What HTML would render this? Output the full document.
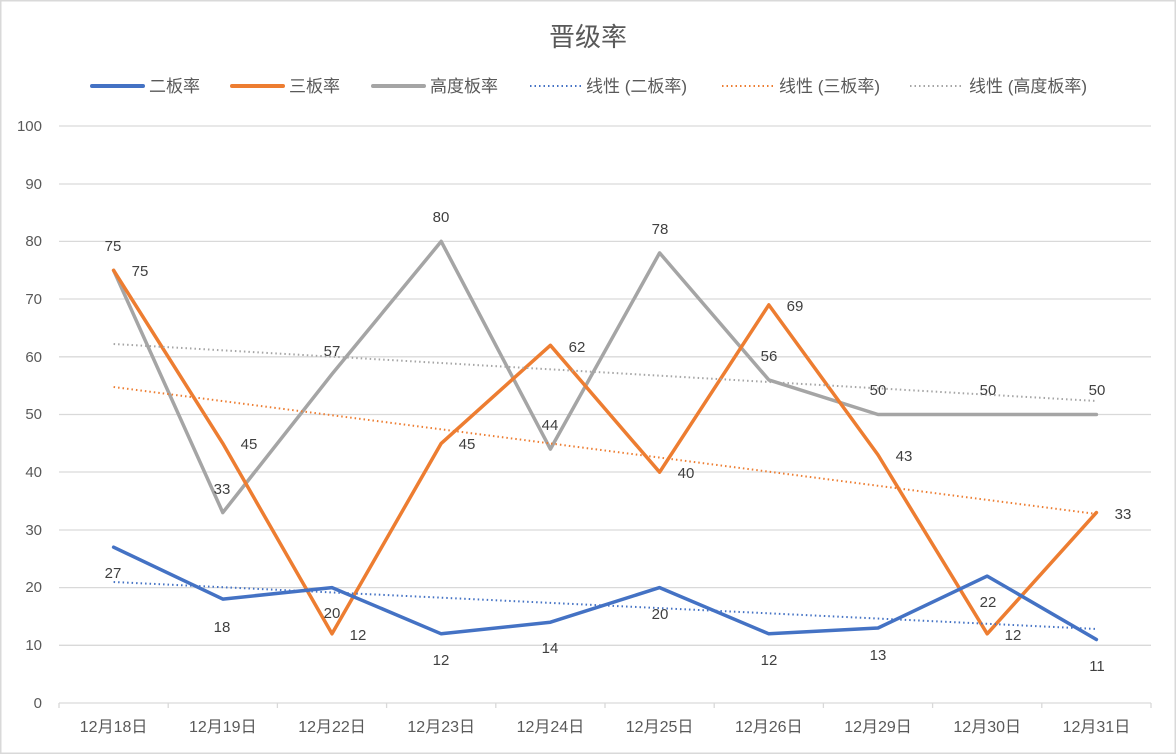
<!DOCTYPE html>
<html><head><meta charset="utf-8"><style>
html,body{margin:0;padding:0;background:#fff;}
svg{display:block;font-family:"Liberation Sans","Noto Sans CJK SC",sans-serif;}
</style></head><body>
<svg width="1176" height="754" viewBox="0 0 1176 754">
<rect x="0.75" y="0.75" width="1174.5" height="752.5" fill="#fff" stroke="#d9d9d9" stroke-width="1.5"/>
<text x="588" y="46" text-anchor="middle" font-size="26" fill="#595959">晋级率</text>
<g font-size="17" fill="#595959">
<line x1="92" y1="86" x2="143" y2="86" stroke="#4472c4" stroke-width="4" stroke-linecap="round"/><text x="149" y="92">二板率</text>
<line x1="232" y1="86" x2="283" y2="86" stroke="#ed7d31" stroke-width="4" stroke-linecap="round"/><text x="289" y="92">三板率</text>
<line x1="373" y1="86" x2="424" y2="86" stroke="#a5a5a5" stroke-width="4" stroke-linecap="round"/><text x="430" y="92">高度板率</text>
<line x1="530" y1="86" x2="582" y2="86" stroke="#4472c4" stroke-width="2" stroke-dasharray="1.5 3"/><text x="586" y="92">线性 (二板率)</text>
<line x1="722" y1="86" x2="774" y2="86" stroke="#ed7d31" stroke-width="2" stroke-dasharray="1.5 3"/><text x="779" y="92">线性 (三板率)</text>
<line x1="910" y1="86" x2="962" y2="86" stroke="#a5a5a5" stroke-width="2" stroke-dasharray="1.5 3"/><text x="969" y="92">线性 (高度板率)</text>
</g>
<g stroke="#d9d9d9" stroke-width="1.3">
<line x1="59" y1="126" x2="1151" y2="126"/><line x1="59" y1="184" x2="1151" y2="184"/>
<line x1="59" y1="241.4" x2="1151" y2="241.4"/><line x1="59" y1="299" x2="1151" y2="299"/>
<line x1="59" y1="356.8" x2="1151" y2="356.8"/><line x1="59" y1="414.5" x2="1151" y2="414.5"/>
<line x1="59" y1="472" x2="1151" y2="472"/><line x1="59" y1="530" x2="1151" y2="530"/>
<line x1="59" y1="587.6" x2="1151" y2="587.6"/><line x1="59" y1="645.3" x2="1151" y2="645.3"/>
<line x1="59" y1="703" x2="1151" y2="703"/>
<path d="M59 703v5M168.2 703v5M277.4 703v5M386.6 703v5M495.8 703v5M605 703v5M714.2 703v5M823.4 703v5M932.6 703v5M1041.8 703v5M1151 703v5"/>
</g>
<g font-size="15" fill="#595959" text-anchor="end">
<text x="42" y="131">100</text><text x="42" y="189">90</text><text x="42" y="246">80</text><text x="42" y="304">70</text><text x="42" y="362">60</text><text x="42" y="419">50</text><text x="42" y="477">40</text><text x="42" y="535">30</text><text x="42" y="592">20</text><text x="42" y="650">10</text><text x="42" y="708">0</text>
</g>
<g font-size="16" fill="#595959" text-anchor="middle">
<text x="113.6" y="732">12月18日</text><text x="222.8" y="732">12月19日</text><text x="332" y="732">12月22日</text><text x="441.2" y="732">12月23日</text><text x="550.4" y="732">12月24日</text><text x="659.6" y="732">12月25日</text><text x="768.8" y="732">12月26日</text><text x="878" y="732">12月29日</text><text x="987.2" y="732">12月30日</text><text x="1096.4" y="732">12月31日</text>
</g>
<g fill="none" stroke-width="3.5" stroke-linejoin="round" stroke-linecap="round">
<polyline stroke="#a5a5a5" points="113.6,270.3 222.8,512.6 332,374.1 441.2,241.4 550.4,449.1 659.6,252.9 768.8,379.9 878,414.5 987.2,414.5 1096.4,414.5"/>
<polyline stroke="#ed7d31" points="113.6,270.3 222.8,443.4 332,633.8 441.2,443.4 550.4,345.3 659.6,472.2 768.8,304.9 878,454.9 987.2,633.8 1096.4,512.6"/>
<polyline stroke="#4472c4" points="113.6,547.2 222.8,599.1 332,587.6 441.2,633.8 550.4,622.2 659.6,587.6 768.8,633.8 878,628 987.2,576.1 1096.4,639.5"/>
</g>
<g stroke-width="2" stroke-dasharray="1.5 3">
<line x1="113.6" y1="344" x2="1096.4" y2="401" stroke="#a5a5a5"/>
<line x1="113.6" y1="387" x2="1096.4" y2="514" stroke="#ed7d31"/>
<line x1="113.6" y1="582" x2="1096.4" y2="629" stroke="#4472c4"/>
</g>
<g font-size="15" fill="#404040" text-anchor="middle">
<text x="113" y="578">27</text><text x="222" y="632">18</text><text x="332" y="618">20</text><text x="441" y="665">12</text><text x="550" y="653">14</text><text x="660" y="619">20</text><text x="769" y="665">12</text><text x="878" y="660">13</text><text x="988" y="607">22</text><text x="1097" y="671">11</text>
<text x="140" y="276">75</text><text x="249" y="449">45</text><text x="358" y="640">12</text><text x="467" y="449">45</text><text x="577" y="352">62</text><text x="686" y="478">40</text><text x="795" y="311">69</text><text x="904" y="461">43</text><text x="1013" y="640">12</text><text x="1123" y="519">33</text>
<text x="113" y="251">75</text><text x="222" y="494">33</text><text x="332" y="356">57</text><text x="441" y="222">80</text><text x="550" y="430">44</text><text x="660" y="234">78</text><text x="769" y="361">56</text><text x="878" y="395">50</text><text x="988" y="395">50</text><text x="1097" y="395">50</text>
</g>
</svg>
</body></html>
